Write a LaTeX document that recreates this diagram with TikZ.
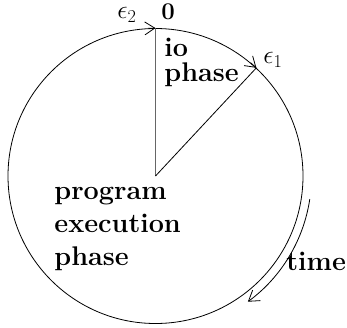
\RequirePackage{fix-cm}
\documentclass[tikz,border=0pt]{standalone}
\usetikzlibrary{arrows.meta,calc}
\begin{document}
\begin{tikzpicture}[x=1pt,y=-1pt,line width=0.8pt,
  mk/.style={-{Straight Barb[length=10pt,width=13pt,line width=0.8pt]}},
  lbl/.style={anchor=base west,inner sep=0pt,font=\fontsize{27}{30}\selectfont\bfseries},
  mlbl/.style={anchor=base west,inner sep=0pt,font=\fontsize{26}{30}\selectfont}]
\useasboundingbox (0,0) rectangle (347,327);
\coordinate (o) at (155.5,176);
\node[circle,draw,inner sep=0pt,minimum size=295pt] (c) at (o) {};
\coordinate (top) at (c.90);
\coordinate (e1) at (c.47.2);
\coordinate (topin) at (c.93);
\coordinate (e1in) at (c.50);
\draw[black!60] (o) -- (top);
\draw (o) -- (e1);
\draw[mk] (topin) -- (top);
\draw[mk] (e1in) -- (e1);
\coordinate (ts) at ($(o)+(-8.5:156pt)$);
\draw[mk] (ts) arc[start angle=-8.5,end angle=-53.7,radius=156pt];
\node[lbl,font=\fontsize{24}{28}\selectfont\bfseries] (zero) at (161,19) {0};
\node[mlbl] (eps2) at (117,18.3) {$\epsilon_2$};
\node[mlbl] (eps1) at (263,63.3) {$\epsilon_1$};
\node[lbl] (io) at (164,56.5) {io};
\node[lbl] (ph1) at (164,81) {phase};
\node[lbl] (prog) at (54,199) {program};
\node[lbl] (exec) at (54,232.5) {execution};
\node[lbl] (ph2) at (54,265.5) {phase};
\node[lbl] (time) at (286,270.5) {time};
\end{tikzpicture}
\end{document}
